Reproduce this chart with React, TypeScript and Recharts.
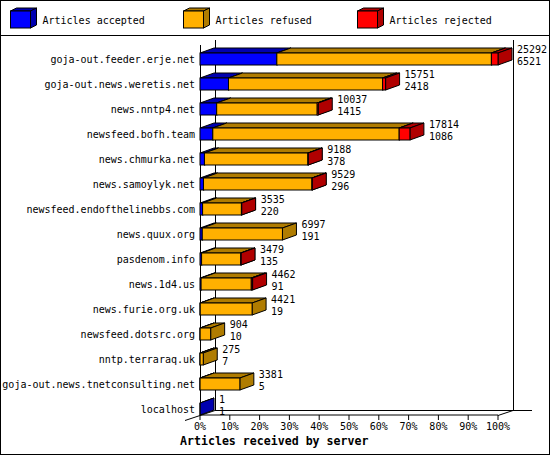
import { Bar, BarChart, LabelList, XAxis, YAxis } from 'recharts'

const SERVERS = [
  'goja-out.feeder.erje.net',
  'goja-out.news.weretis.net',
  'news.nntp4.net',
  'newsfeed.bofh.team',
  'news.chmurka.net',
  'news.samoylyk.net',
  'newsfeed.endofthelinebbs.com',
  'news.quux.org',
  'pasdenom.info',
  'news.1d4.us',
  'news.furie.org.uk',
  'newsfeed.dotsrc.org',
  'nntp.terraraq.uk',
  'goja-out.news.tnetconsulting.net',
  'localhost',
]

const TOTAL = [25292, 15751, 10037, 17814, 9188, 9529, 3535, 6997, 3479, 4462, 4421, 904, 275, 3381, 1]
const ACCEPTED = [6521, 2418, 1415, 1086, 378, 296, 220, 191, 135, 91, 19, 10, 7, 5, 1]
const REFUSED = [18211, 13078, 8532, 15818, 8785, 9208, 3295, 6806, 3329, 4261, 4402, 894, 268, 3376, 0]
const REJECTED = [560, 255, 90, 910, 25, 25, 20, 0, 15, 110, 0, 0, 0, 0, 0]

const SERIES = ['Articles accepted', 'Articles refused', 'Articles rejected']
const PCT_TICKS = [0, 10, 20, 30, 40, 50, 60, 70, 80, 90, 100]

const MAX = Math.max(...TOTAL)
const pct = (v: number) => (v / MAX) * 100

const data = SERVERS.map((name, i) => ({
  name,
  accepted: pct(ACCEPTED[i]),
  refused: pct(REFUSED[i]),
  rejected: pct(REJECTED[i]),
}))

// layout
const W = 550
const H = 455
const LEFT = 200
const TOP = 40
const RIGHT = 498
const BOTTOM = 415
const DX = 15
const DY = 5
const FRONT_H = 12
const FONT = '"DejaVu Sans Mono", monospace'

const COLORS = [
  { front: '#0000ff', dark: '#0000b0' },
  { front: '#ffb000', dark: '#b07c00' },
  { front: '#ff0000', dark: '#b00000' },
]

function box3d(front: string, dark: string) {
  return (props: any) => {
    const { x, y, width, height } = props
    if (!(width > 0)) return <g />
    const fy = y + height - FRONT_H
    const x1 = x + width
    const d = DX - 1
    return (
      <g stroke="#000" strokeWidth={1}>
        <polygon fill={dark} points={`${x},${fy} ${x1},${fy} ${x1 + d},${fy - DY} ${x + d},${fy - DY}`} />
        <polygon
          fill={dark}
          points={`${x1},${fy} ${x1 + d},${fy - DY} ${x1 + d},${fy - DY + FRONT_H} ${x1},${fy + FRONT_H}`}
        />
        <rect x={x} y={fy} width={width} height={FRONT_H} fill={front} />
      </g>
    )
  }
}

function ValueLabel(props: any) {
  const vb = props.viewBox ?? props
  const i = props.index
  if (i == null) return null
  const end = vb.x + vb.width
  return (
    <g fontFamily={FONT} fontSize={10} fill="#000">
      <text x={end + DX + 4} y={vb.y + 13}>{TOTAL[i]}</text>
      <text x={end + DX + 4} y={vb.y + 24.5}>{ACCEPTED[i]}</text>
    </g>
  )
}

function ServerTick(props: any) {
  const { y, payload } = props
  return (
    <text x={LEFT - 5} y={y + 10.5} textAnchor="end" fontFamily={FONT} fontSize={10} fill="#000">
      {payload.value}
    </text>
  )
}

function PctTick(props: any) {
  const { x, payload } = props
  return (
    <text x={x} y={BOTTOM + 15} textAnchor="middle" fontFamily={FONT} fontSize={10} fill="#000">
      {payload.value}%
    </text>
  )
}

function LegendBox({ x, front, dark }: { x: number; front: string; dark: string }) {
  const y = 11
  const w = 20
  const h = 17
  const d = 6
  const e = 3
  return (
    <g stroke="#000" strokeWidth={1}>
      <polygon fill={dark} points={`${x},${y} ${x + w},${y} ${x + w + d},${y - e} ${x + d},${y - e}`} />
      <polygon fill={dark} points={`${x + w},${y} ${x + w + d},${y - e} ${x + w + d},${y + h - e} ${x + w},${y + h}`} />
      <rect x={x} y={y} width={w} height={h} fill={front} />
    </g>
  )
}

const LEGEND_X = [10.5, 183.5, 357.5]

export default function App() {
  return (
    <div style={{ position: 'absolute', left: 0, top: 0, width: W, height: H, background: '#fff' }}>
      <svg width={W} height={H} style={{ position: 'absolute', left: 0, top: 0 }}>
        <rect x={0.5} y={0.5} width={W - 1} height={H - 1} fill="#fff" stroke="#000" />
        <line x1={0} x2={W} y1={35.5} y2={35.5} stroke="#000" />
        {SERIES.map((s, i) => (
          <g key={s}>
            <LegendBox x={LEGEND_X[i]} front={COLORS[i].front} dark={COLORS[i].dark} />
            <text x={LEGEND_X[i] + 32} y={23.5} fontFamily={FONT} fontSize={10} fill="#000">
              {s}
            </text>
          </g>
        ))}
        <g stroke="#000" strokeWidth={1} fill="none">
          <line x1={LEFT + DX + 0.5} x2={LEFT + DX + 0.5} y1={TOP} y2={BOTTOM - DY} />
          <line x1={RIGHT + DX + 0.5} x2={RIGHT + DX + 0.5} y1={TOP} y2={BOTTOM - DY} />
          <line x1={LEFT + DX} x2={RIGHT + DX + 19} y1={BOTTOM - DY + 0.5} y2={BOTTOM - DY + 0.5} />
          <line x1={LEFT + 0.5} x2={LEFT + 0.5} y1={TOP + DY} y2={BOTTOM} />
          <line x1={RIGHT} y1={BOTTOM + 0.5} x2={RIGHT + DX} y2={BOTTOM - DY + 0.5} />
          <line x1={LEFT - DX} y1={BOTTOM + DY + 0.5} x2={LEFT + DX} y2={BOTTOM - DY + 0.5} />
        </g>
        <text x={180} y={445} fontFamily={FONT} fontSize={11.6} fontWeight="bold" fill="#000">
          Articles received by server
        </text>
      </svg>
      <div style={{ position: 'absolute', left: 0, top: 0 }}>
        <BarChart
          width={W}
          height={H}
          data={data}
          layout="vertical"
          barCategoryGap={0}
          margin={{ top: TOP, right: W - RIGHT, bottom: 0, left: 0 }}
        >
          <XAxis
            type="number"
            domain={[0, 100]}
            ticks={PCT_TICKS}
            interval={0}
            height={H - BOTTOM}
            axisLine={{ stroke: '#000' }}
            tickLine={{ stroke: '#000' }}
            tickSize={5}
            tick={<PctTick />}
          />
          <YAxis
            type="category"
            dataKey="name"
            width={LEFT}
            axisLine={false}
            tickLine={false}
            interval={0}
            tick={<ServerTick />}
          />
          <Bar dataKey="accepted" stackId="a" isAnimationActive={false} shape={box3d(COLORS[0].front, COLORS[0].dark)} />
          <Bar dataKey="refused" stackId="a" isAnimationActive={false} shape={box3d(COLORS[1].front, COLORS[1].dark)} />
          <Bar dataKey="rejected" stackId="a" isAnimationActive={false} shape={box3d(COLORS[2].front, COLORS[2].dark)}>
            <LabelList dataKey="rejected" content={<ValueLabel />} />
          </Bar>
        </BarChart>
      </div>
    </div>
  )
}
